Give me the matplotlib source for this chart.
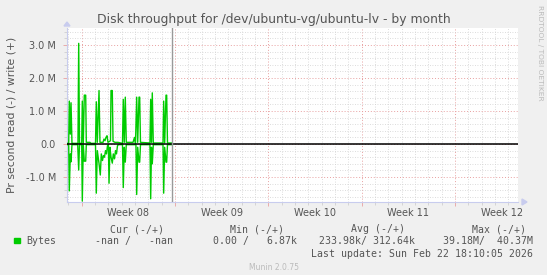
import matplotlib
matplotlib.use("Agg")
import matplotlib.pyplot as plt
from matplotlib.patches import Rectangle
from matplotlib.transforms import blended_transform_factory

# ---- data (days relative to start of Week 08, values in MB/s) ----
write_days = [-1.05, -0.975, -0.93, -0.855, -0.80, -0.73, -0.28, -0.225, -0.165, 0.0, 0.045,
              0.12, 0.195, 0.30, 0.345, 0.62, 0.70, 1.035, 1.095, 1.17, 1.30, 1.37, 1.60,
              1.67, 1.75, 1.82, 1.90, 1.97, 2.16, 2.20, 2.295, 2.35, 2.50, 2.72, 3.06, 3.12,
              3.195, 3.27, 3.345, 3.85, 3.96, 4.035, 4.125, 4.20, 4.30, 4.35, 4.41, 5.12,
              5.175, 5.235, 5.295, 5.37, 6.10, 6.15, 6.225, 6.325, 6.375, 6.435, 6.75]
write_vals = [0.02, 0.02, 1.30, 0.30, 1.25, 0.02, 0.02, 3.05, 0.02, 0.02, 1.30,
              0.02, 1.48, 1.48, 0.05, 0.05, 0.02, 0.02, 1.28, 0.05, 1.62, 0.05, 0.05,
              0.15, 0.10, 0.20, 0.25, 0.05, 0.10, 1.62, 1.62, 0.08, 0.05, 0.05, 0.02, 1.35,
              0.05, 1.42, 0.05, 0.05, 0.20, 0.02, 1.42, 0.05, 1.42, 1.42, 0.05, 0.03,
              1.35, 0.05, 1.55, 0.03, 0.03, 1.30, 0.03, 1.48, 1.48, 0.03, 0.03]

read_days = [-1.05, -0.975, -0.93, -0.855, -0.80, -0.73, -0.30, -0.225, -0.165, 0.0, 0.045,
             0.12, 0.195, 0.30, 0.345, 1.035, 1.095, 1.17, 1.30, 1.395, 1.47, 1.56, 1.635,
             1.71, 1.785, 1.86, 1.935, 2.00, 2.05, 2.12, 2.20, 2.295, 2.37, 2.46, 2.535,
             2.61, 2.685, 2.76, 3.06, 3.12, 3.195, 3.27, 3.345, 4.07, 4.125, 4.20, 4.30,
             4.35, 4.41, 5.12, 5.175, 5.235, 5.295, 5.37, 6.10, 6.15, 6.225, 6.325, 6.375,
             6.435, 6.75]
read_vals = [0.02, 0.02, 1.42, 0.30, 0.54, 0.02, 0.02, 0.79, 0.02, 0.02, 1.73,
             0.02, 0.52, 0.52, 0.02, 0.02, 1.49, 0.20, 0.59, 0.94, 0.30, 0.50, 0.35,
             0.40, 0.20, 0.30, 0.05, 0.02, 1.19, 0.10, 0.40, 0.58, 0.30, 0.45, 0.20,
             0.30, 0.05, 0.02, 0.02, 1.32, 0.10, 0.55, 0.02, 0.02, 1.53, 0.10, 0.55,
             0.55, 0.02, 0.02, 1.66, 0.10, 0.60, 0.02, 0.02, 1.49, 0.10, 0.55, 0.55,
             0.02, 0.02]

week_starts = [0, 7, 14, 21, 28]
week_labels = ["Week 08", "Week 09", "Week 10", "Week 11", "Week 12"]
y_ticks = [-1, 0, 1, 2, 3]
y_tick_labels = ["-1.0 M", "0.0", "1.0 M", "2.0 M", "3.0 M"]
now_day = 6.80

title = "Disk throughput for /dev/ubuntu-vg/ubuntu-lv - by month"
ylabel = "Pr second read (-) / write (+)"
legend_name = "Bytes"
headers = ["Cur (-/+)", "Min (-/+)", "Avg (-/+)", "Max (-/+)"]
values = ["-nan /   -nan", "0.00 /   6.87k", "233.98k/ 312.64k", "39.18M/  40.37M"]
last_update = "Last update: Sun Feb 22 18:10:05 2026"
version = "Munin 2.0.75"
watermark = "RRDTOOL / TOBI OETIKER"

W, H = 547, 275
BG = "#F0F0F0"
TXT = "#555555"
GREEN = "#00CC00"

fig = plt.figure(figsize=(W / 100, H / 100), dpi=100, facecolor=BG)
L, R, T, B = 67, 518, 28, 202
ax = fig.add_axes([L / W, 1 - B / H, (R - L) / W, (B - T) / H])
ax.set_facecolor("white")

x0 = (L - 81.7) / 13.33
x1 = (R - 81.7) / 13.33
ax.set_xlim(x0, x1)
ax.set_ylim(-(B - 144) / 33.0, (144 - T) / 33.0)

# grid
ax.set_xticks(week_starts)
ax.set_xticklabels([""] * len(week_starts))
ax.set_xticks([d for d in range(-1, 33)], minor=True)
ax.set_yticks(y_ticks)
ax.set_yticklabels(y_tick_labels)
ax.set_yticks([v / 5 for v in range(-8, 18)], minor=True)
ax.grid(which="minor", color="#d0d0d0", linestyle=(0, (1, 2)), linewidth=0.6)
ax.grid(which="major", color="#e8a0a0", linestyle=(0, (1, 2)), linewidth=0.7)
ax.set_axisbelow(True)

ax.tick_params(axis="both", which="major", colors="#e8a0a0", length=3, width=0.6,
               labelcolor=TXT, labelsize=7)
ax.tick_params(axis="both", which="minor", colors="#c8c8c8", length=2, width=0.5)
ax.tick_params(axis="y", pad=5)

for s in ["top", "right"]:
    ax.spines[s].set_visible(False)
for s in ["left", "bottom"]:
    ax.spines[s].set_color("#c8ccee")
    ax.spines[s].set_linewidth(0.8)

# week labels between boundaries
tr = blended_transform_factory(ax.transData, fig.transFigure)
for ws, lab in zip(week_starts, week_labels):
    ax.text(ws + 3.5, 1 - 213 / H, lab, transform=tr, ha="center", va="center",
            fontsize=7, color=TXT, clip_on=False)

# data
ax.plot(write_days, write_vals, color=GREEN, linewidth=1.0, zorder=3)
ax.plot(read_days, [-v for v in read_vals], color=GREEN, linewidth=1.0, zorder=3)
ax.axhline(0, color="black", linewidth=1.1, zorder=4)
ax.axvline(now_day, color="#999999", linewidth=1.0, zorder=4)

# axis arrows
fig.patches.append(plt.Polygon([[L - 3, H - T + 2], [L + 3, H - T + 2], [L, H - T + 6]],
                               closed=True, color="#c8ccee", transform=None))
fig.patches.append(plt.Polygon([[R + 4, H - B - 3], [R + 4, H - B + 3], [R + 9, H - B]],
                               closed=True, color="#c8ccee", transform=None))

# text
fig.text(274 / W, 1 - 19 / H, title, ha="center", va="center", fontsize=8.95, color=TXT)
fig.text(12 / W, 1 - 115 / H, ylabel, ha="center", va="center", rotation=90,
         fontsize=7.8, color=TXT)
fig.text(540 / W, 1 - 5 / H, watermark, ha="center", va="top", rotation=270,
         fontsize=5.4, color="#bbbbbb")

mono = dict(family="DejaVu Sans Mono", fontsize=7.1, color=TXT, va="center")
hdr_right = [164, 284, 405, 526]
val_right = [173, 297, 415, 533]
for h, xr in zip(headers, hdr_right):
    fig.text(xr / W, 1 - 229 / H, h, ha="right", **mono)
for v, xr in zip(values, val_right):
    fig.text(xr / W, 1 - 241 / H, v, ha="right", **mono)
fig.text(26 / W, 1 - 241 / H, legend_name, ha="left", **mono)
fig.patches.append(Rectangle((14, H - 243), 5.5, 5.5, color=GREEN, transform=None))
fig.text(533 / W, 1 - 254 / H, last_update, ha="right", **mono)
fig.text(274 / W, 1 - 267 / H, version, ha="center", va="center", fontsize=5.5,
         color="#bbbbbb")

fig.savefig("out.png", dpi=100, facecolor=BG)
